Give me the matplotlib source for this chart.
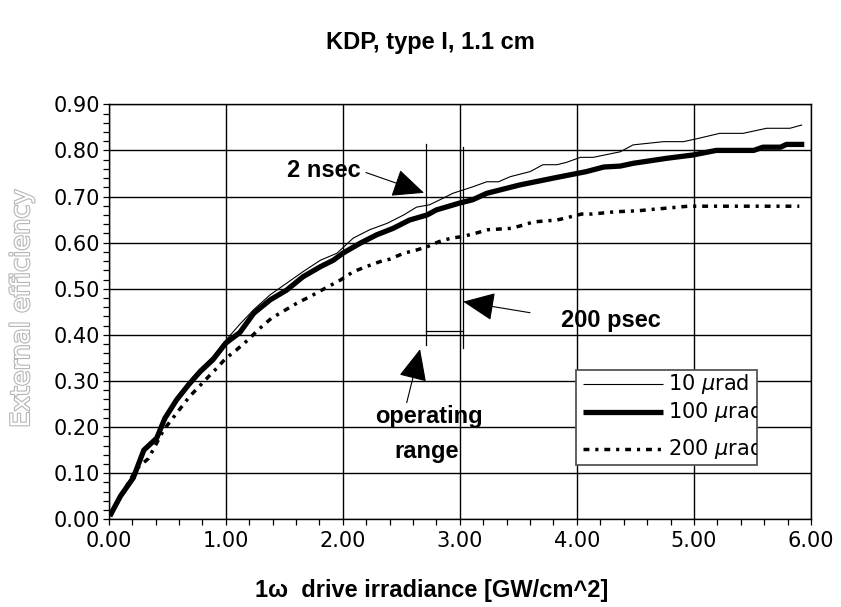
import matplotlib
matplotlib.use("Agg")
import matplotlib.pyplot as plt
from matplotlib.patches import Rectangle
from matplotlib.ticker import MultipleLocator, FormatStrFormatter
import matplotlib.patheffects as pe

# ---------------- data ----------------
x_100 = [0.02, 0.1, 0.21, 0.30, 0.41, 0.48, 0.58, 0.68, 0.78, 0.89, 1.0, 1.12, 1.24, 1.38,
         1.52, 1.66, 1.81, 1.92, 2.0, 2.15, 2.29, 2.43, 2.57, 2.72, 2.80, 3.0, 3.11, 3.23,
         3.51, 3.80, 4.08, 4.23, 4.37, 4.48, 4.77, 4.99, 5.19, 5.51, 5.59, 5.74, 5.79, 5.92]
y_100 = [0.012, 0.05, 0.09, 0.15, 0.176, 0.219, 0.259, 0.291, 0.320, 0.346, 0.382, 0.405,
         0.447, 0.476, 0.497, 0.526, 0.548, 0.562, 0.577, 0.599, 0.617, 0.631, 0.649, 0.660,
         0.671, 0.686, 0.693, 0.707, 0.725, 0.740, 0.754, 0.764, 0.766, 0.772, 0.783, 0.790,
         0.800, 0.800, 0.807, 0.807, 0.813, 0.813]

x_10 = [0.02, 0.1, 0.21, 0.30, 0.41, 0.48, 0.58, 0.68, 0.78, 0.89, 1.0, 1.12, 1.24, 1.38,
        1.52, 1.66, 1.81, 1.95, 2.09, 2.23, 2.38, 2.52, 2.63, 2.74, 2.83, 2.94, 3.11, 3.23,
        3.33, 3.43, 3.60, 3.71, 3.83, 3.91, 4.03, 4.14, 4.37, 4.48, 4.74, 4.91, 5.02, 5.22,
        5.42, 5.62, 5.82, 5.92]
y_10 = [0.014, 0.055, 0.095, 0.152, 0.178, 0.224, 0.265, 0.297, 0.326, 0.353, 0.388, 0.423,
        0.455, 0.487, 0.512, 0.537, 0.562, 0.577, 0.610, 0.628, 0.642, 0.660, 0.677, 0.682,
        0.693, 0.707, 0.721, 0.732, 0.732, 0.743, 0.754, 0.769, 0.769, 0.774, 0.785, 0.785,
        0.797, 0.812, 0.819, 0.819, 0.825, 0.837, 0.837, 0.848, 0.848, 0.855]

x_200 = [0.02, 0.1, 0.24, 0.34, 0.47, 0.58, 0.69, 0.81, 0.92, 1.0, 1.09, 1.19, 1.29, 1.39,
         1.51, 1.61, 1.72, 1.82, 1.98, 2.09, 2.20, 2.32, 2.40, 2.52, 2.63, 2.72, 2.82, 2.93,
         3.02, 3.13, 3.24, 3.44, 3.54, 3.63, 3.83, 3.93, 4.04, 4.13, 4.33, 4.52, 4.64, 4.82,
         4.95, 5.9]
y_200 = [0.01, 0.05, 0.11, 0.132, 0.194, 0.230, 0.266, 0.298, 0.327, 0.349, 0.367, 0.389,
         0.414, 0.436, 0.454, 0.469, 0.483, 0.497, 0.519, 0.537, 0.548, 0.559, 0.564, 0.577,
         0.584, 0.591, 0.602, 0.610, 0.613, 0.620, 0.628, 0.631, 0.638, 0.645, 0.649, 0.655,
         0.662, 0.662, 0.667, 0.669, 0.672, 0.676, 0.679, 0.679]

series_labels = ["10 $\\mu$rad", "100 $\\mu$rad", "200 $\\mu$rad"]

title = "KDP, type I, 1.1 cm"
xlabel = "1\u03c9  drive irradiance [GW/cm^2]"
ylabel = "External efficiency"

# ---------------- figure ----------------
plt.rcParams['mathtext.fontset'] = 'dejavusans'
fig = plt.figure(figsize=(8.41, 6.07), dpi=100)
ax = fig.add_axes([0.12925, 0.14448, 0.83508, 0.68369])

ax.set_xlim(0, 6)
ax.set_ylim(0, 0.9)
ax.xaxis.set_major_locator(MultipleLocator(1.0))
ax.xaxis.set_minor_locator(MultipleLocator(0.2))
ax.yaxis.set_major_locator(MultipleLocator(0.1))
ax.yaxis.set_minor_locator(MultipleLocator(0.02))
ax.xaxis.set_major_formatter(FormatStrFormatter('%.2f'))
ax.yaxis.set_major_formatter(FormatStrFormatter('%.2f'))
ax.tick_params(which='both', direction='out', length=4.5, width=0.9, color='black')
ax.tick_params(axis='y', which='major', pad=1.5, labelsize=15)
ax.tick_params(axis='x', which='major', pad=4, labelsize=15)
for lab in ax.get_xticklabels() + ax.get_yticklabels():
    lab.set_fontfamily('DejaVu Sans')
ax.grid(True, which='major', color='black', lw=1.0, zorder=1)
ax.set_axisbelow(True)
for sp in ax.spines.values():
    sp.set_linewidth(1.0)
    sp.set_color('black')

dash_style = (0, (1.7, 1.7, 0.9, 1.7))
ax.plot(x_10, y_10, color='black', lw=0.8, zorder=3)
ax.plot(x_100, y_100, color='black', lw=3.8, solid_joinstyle='round', zorder=3)
ax.plot(x_200, y_200, color='black', lw=2.5, linestyle=dash_style, zorder=3)

# operating range bracket
ax.plot([2.71, 2.71], [0.378, 0.813], color='black', lw=0.9, zorder=4)
ax.plot([3.03, 3.03], [0.372, 0.808], color='black', lw=0.9, zorder=4)
ax.plot([2.71, 3.03], [0.408, 0.408], color='black', lw=0.9, zorder=4)

# annotations
bold = dict(fontfamily='Liberation Sans', fontweight='bold', fontsize=17)
aprops = dict(arrowstyle='-|>,head_length=2.0,head_width=0.9', mutation_scale=10,
              lw=0.8, color='black', shrinkA=0, shrinkB=0)
ax.text(1.84, 0.756, "2 nsec", ha='center', va='center', zorder=6, **bold)
ax.annotate("", xy=(2.694, 0.708), xytext=(2.198, 0.752), arrowprops=aprops, zorder=6)
ax.text(4.29, 0.431, "200 psec", ha='center', va='center', zorder=6, **bold)
ax.annotate("", xy=(3.029, 0.472), xytext=(3.60, 0.448), arrowprops=aprops, zorder=6)
ax.text(2.74, 0.224, "operating", ha='center', va='center', zorder=6, **bold)
ax.text(2.72, 0.146, "range", ha='center', va='center', zorder=6, **bold)
ax.annotate("", xy=(2.660, 0.369), xytext=(2.546, 0.253), arrowprops=aprops, zorder=6)

# manual legend with clipped text
rect = Rectangle((3.99, 0.117), 1.551, 0.207, transform=ax.transData, facecolor='white',
                 edgecolor='#555555', lw=1.3, zorder=7)
ax.add_patch(rect)
rows_y = [0.2935, 0.232, 0.153]
styles = [dict(lw=0.8, linestyle='-'), dict(lw=3.8, linestyle='-'),
          dict(lw=2.5, linestyle=dash_style)]
for lab, yy, st in zip(series_labels, rows_y, styles):
    ax.plot([4.05, 4.738], [yy, yy], color='black', zorder=8, solid_capstyle='butt',
            dash_capstyle='butt', **st)
    t = ax.text(4.781, yy, lab, ha='left', va='center', fontsize=15,
                fontfamily='DejaVu Sans', zorder=8, clip_on=True)
    t.set_clip_path(rect)

# titles / labels
fig.text(430 / 841, 1 - 42 / 607, title, ha='center', va='center', **bold)
fig.text(432 / 841, 1 - 590 / 607, xlabel, ha='center', va='center', **bold)
fig.text(22 / 841, 1 - 308 / 607, ylabel, ha='center', va='center', rotation=90,
         fontsize=18.5, fontfamily='DejaVu Sans', color='white',
         path_effects=[pe.withStroke(linewidth=1.6, foreground='#b5b5b5')])

fig.savefig("out.png", dpi=100)
